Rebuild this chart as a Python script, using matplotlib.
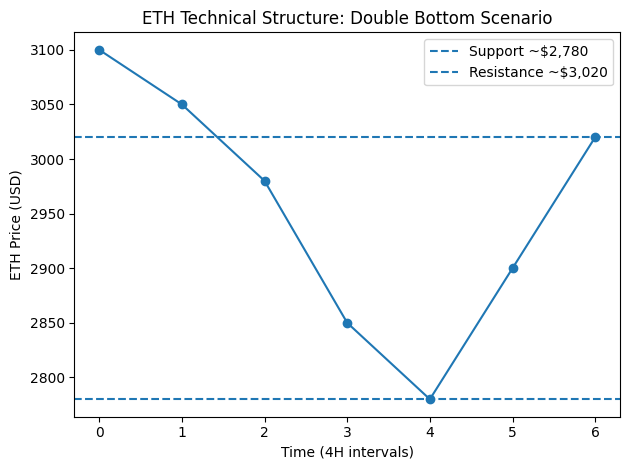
import matplotlib.pyplot as plt

# price path over 4H intervals
time_steps = [0, 1, 2, 3, 4, 5, 6]
eth_price = [3100, 3050, 2980, 2850, 2780, 2900, 3020]

support_level = 2780
resistance_level = 3020

fig, ax = plt.subplots(figsize=(6.4, 4.8), dpi=100)

ax.plot(time_steps, eth_price, marker='o')
ax.axhline(support_level, linestyle='--', label='Support ~$2,780')
ax.axhline(resistance_level, linestyle='--', label='Resistance ~$3,020')

ax.set_title('ETH Technical Structure: Double Bottom Scenario')
ax.set_xlabel('Time (4H intervals)')
ax.set_ylabel('ETH Price (USD)')
ax.legend()

plt.tight_layout()
plt.savefig('out.png', bbox_inches='tight')
